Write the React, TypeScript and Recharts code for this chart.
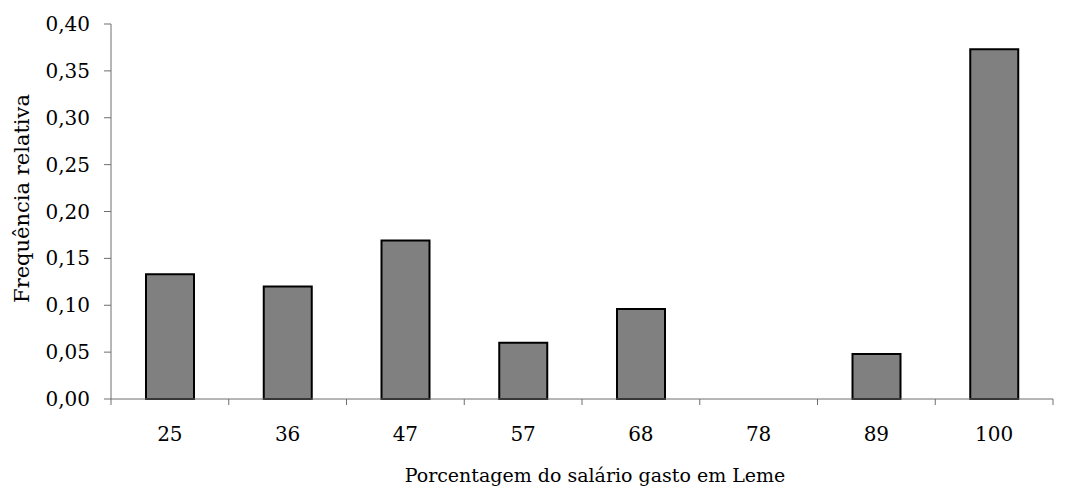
import { BarChart, Bar, XAxis, YAxis } from 'recharts'

const categories = ['25', '36', '47', '57', '68', '78', '89', '100']
const frequencies = [0.133, 0.12, 0.169, 0.06, 0.096, 0, 0.048, 0.373]
const yTicks = [0, 0.05, 0.1, 0.15, 0.2, 0.25, 0.3, 0.35, 0.4]

const data = categories.map((c, i) => ({ faixa: c, freq: frequencies[i] }))

const FONT = 'DejaVu Serif'
const AXIS = '#6e6e6e'

function CategoryTick(props: any) {
  const { x, y, payload, index } = props
  const half = payload.offset || 0
  const last = index === categories.length - 1
  return (
    <g>
      <line x1={x - half} x2={x - half} y1={y} y2={y + 6} stroke={AXIS} strokeWidth={1} />
      {last && <line x1={x + half} x2={x + half} y1={y} y2={y + 6} stroke={AXIS} strokeWidth={1} />}
      <text x={x} y={y + 42} textAnchor="middle" fill="#000" fontSize={20} fontFamily={FONT}>
        {payload.value}
      </text>
    </g>
  )
}

function XLabel(props: any) {
  const vb = props.viewBox
  return (
    <text
      x={vb.x + vb.width / 2 + 13}
      y={vb.y + 83}
      textAnchor="middle"
      fill="#000"
      fontSize={19}
      fontFamily={FONT}
    >
      Porcentagem do salário gasto em Leme
    </text>
  )
}

function YLabel(props: any) {
  const vb = props.viewBox
  const cx = vb.x + 22
  const cy = vb.y + vb.height / 2 - 13
  return (
    <text
      x={cx}
      y={cy}
      transform={`rotate(-90, ${cx}, ${cy})`}
      textAnchor="middle"
      dominantBaseline="central"
      fill="#000"
      fontSize={21}
      fontFamily={FONT}
    >
      Frequência relativa
    </text>
  )
}

export default function App() {
  return (
    <div style={{ position: 'absolute', left: 0, top: 0, fontFamily: FONT, background: '#fff' }}>
      <BarChart
        width={1066}
        height={488}
        data={data}
        margin={{ top: 24, right: 13, left: 0, bottom: 0 }}
        barCategoryGap={0}
      >
        <XAxis
          dataKey="faixa"
          height={89}
          tickLine={false}
          tickSize={0}
          tickMargin={0}
          axisLine={{ stroke: AXIS }}
          tick={<CategoryTick />}
          interval={0}
          label={<XLabel />}
        />
        <YAxis
          width={111}
          domain={[0, 0.4]}
          ticks={yTicks}
          interval={0}
          tickSize={7}
          tickMargin={14}
          tickLine={{ stroke: AXIS }}
          axisLine={{ stroke: AXIS }}
          tick={{ fill: '#000', fontSize: 20, fontFamily: FONT }}
          tickFormatter={(v: number) => v.toFixed(2).replace('.', ',')}
          label={<YLabel />}
        />
        <Bar dataKey="freq" fill="#808080" stroke="#000" strokeWidth={2} barSize={48} isAnimationActive={false} />
      </BarChart>
    </div>
  )
}
